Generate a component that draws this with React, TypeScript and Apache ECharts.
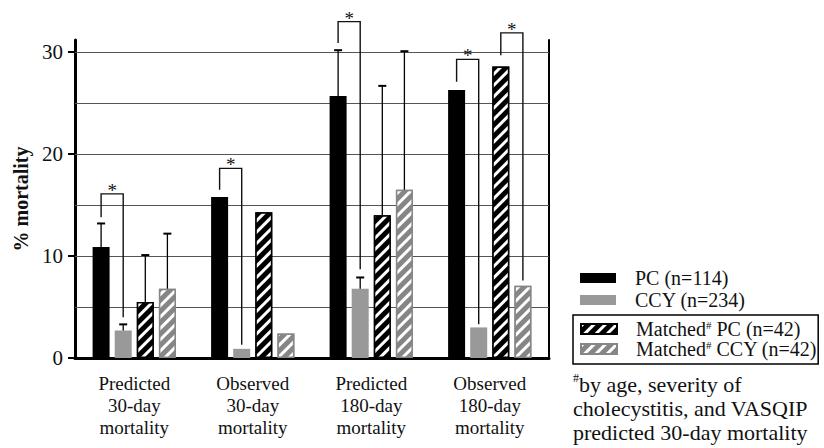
import React, { useEffect, useRef } from "react";
import * as echarts from "echarts";

const categories = [
  "Predicted\n30-day\nmortality",
  "Observed\n30-day\nmortality",
  "Predicted\n180-day\nmortality",
  "Observed\n180-day\nmortality",
];
const seriesNames = ["PC (n=114)", "CCY (n=234)", "Matched# PC (n=42)", "Matched# CCY (n=42)"];
const pcValues = [10.9, 15.8, 25.7, 26.3];
const ccyValues = [2.7, 0.9, 6.8, 3.0];
const matchedPcValues = [5.5, 14.3, 14.0, 28.6];
const matchedCcyValues = [6.8, 2.4, 16.5, 7.1];
const pcErrors = [13.2, null, 30.2, null];
const ccyErrors = [3.3, null, 7.9, null];
const matchedPcErrors = [10.1, null, 26.7, null];
const matchedCcyErrors = [12.2, null, 30.1, null];
// [category, left bar, right bar, bracket top, left leg end, right leg end]
const brackets = [
  [0, 0, 1, 16.1, 13.8, 4.0],
  [1, 0, 1, 18.6, 16.5, 1.3],
  [2, 0, 1, 33.0, 30.9, 8.7],
  [3, 0, 1, 29.3, 27.1, 3.3],
  [3, 2, 3, 31.9, 29.7, 7.6],
];
const yLabelValues = [0, 10, 20, 30];
const gridValues = [5, 10, 15, 20, 25, 30];
const footnote = "{s|#}by age, severity of\ncholecystitis, and VASQIP\npredicted 30-day mortality";

const SERIF = "'Liberation Serif', 'Times New Roman', serif";
const BAR_WIDTH = 17;
const BAR_GAP = 0.3;
const Y_MAX = 31.2;

const barOffset = (idx: number) => (idx - 1.5) * BAR_WIDTH * (1 + BAR_GAP);

export default function App() {
  const ref = useRef<HTMLDivElement>(null);
  useEffect(() => {
    if (!ref.current) return;
    const chart = echarts.init(ref.current, undefined, { renderer: "svg" });

    const values = [pcValues, ccyValues, matchedPcValues, matchedCcyValues];
    const errors = [pcErrors, ccyErrors, matchedPcErrors, matchedCcyErrors];
    const errData: number[][] = [];
    errors.forEach((arr, s) =>
      arr.forEach((e, i) => {
        if (e != null) errData.push([i, s, values[s][i], e]);
      })
    );

    const decalStripe = (color: string) => ({
      symbol: "rect",
      symbolSize: 1,
      color,
      dashArrayX: [1, 0],
      dashArrayY: [3, 5],
      rotation: -Math.PI / 4,
    });

    const legendText = {
      fontFamily: SERIF,
      fontSize: 20,
      color: "#111",
      padding: [0, 0, 0, 14],
      rich: {
        s: { fontFamily: SERIF, fontSize: 11, verticalAlign: "top", color: "#111" },
      },
    };

    const option: any = {
      animation: false,
      backgroundColor: "#fff",
      grid: { left: 75, right: 275, top: 40, bottom: 90 },
      legend: [
        {
          data: [seriesNames[0], seriesNames[1]],
          orient: "vertical",
          left: 580,
          top: 268,
          padding: 0,
          itemWidth: 36,
          itemHeight: 10,
          itemGap: 2,
          icon: "rect",
          textStyle: legendText,
          selectedMode: false,
        },
        {
          data: [seriesNames[2], seriesNames[3]],
          orient: "vertical",
          left: 573,
          top: 315,
          itemWidth: 36,
          itemHeight: 10,
          itemGap: 0,
          icon: "rect",
          borderColor: "#000",
          borderWidth: 1.5,
          padding: [4, 1, 5, 7],
          formatter: (n: string) => n.replace("#", "{s|#}"),
          textStyle: legendText,
          selectedMode: false,
        },
      ],
      xAxis: {
        type: "category",
        data: categories,
        axisLine: { lineStyle: { color: "#000", width: 3 } },
        axisTick: { show: false },
        axisLabel: {
          fontFamily: SERIF,
          fontSize: 19,
          lineHeight: 22,
          color: "#111",
          margin: 14,
        },
      },
      yAxis: [
        {
          type: "value",
          min: 0,
          max: Y_MAX,
          name: "% mortality",
          nameLocation: "middle",
          nameGap: 40,
          nameTextStyle: { fontFamily: SERIF, fontSize: 20, fontWeight: "bold", color: "#111" },
          axisLine: { show: true, lineStyle: { color: "#000", width: 3 } },
          axisTick: { show: true, length: 7, customValues: yLabelValues, lineStyle: { color: "#000", width: 2 } },
          axisLabel: {
            customValues: yLabelValues,
            fontFamily: SERIF,
            fontSize: 21,
            color: "#111",
            margin: 12,
          },
          splitLine: { show: false },
        },
        {
          type: "value",
          min: 0,
          max: Y_MAX,
          position: "right",
          axisLine: { show: true, lineStyle: { color: "#000", width: 2 } },
          axisTick: { show: false },
          axisLabel: { show: false },
          splitLine: { show: false },
        },
      ],
      series: [
        {
          name: seriesNames[0],
          type: "bar",
          data: pcValues,
          barWidth: BAR_WIDTH,
          barGap: `${BAR_GAP * 100}%`,
          itemStyle: { color: "#000" },
          markLine: {
            silent: true,
            symbol: "none",
            z: 1,
            label: { show: false },
            lineStyle: { color: "#555", width: 1, type: "solid" },
            emphasis: { disabled: true },
            data: gridValues.map((v) => ({ yAxis: v })),
          },
        },
        {
          name: seriesNames[1],
          type: "bar",
          data: ccyValues,
          barWidth: BAR_WIDTH,
          barGap: `${BAR_GAP * 100}%`,
          itemStyle: { color: "#999" },
        },
        {
          name: seriesNames[2],
          type: "bar",
          data: matchedPcValues,
          barWidth: BAR_WIDTH,
          barGap: `${BAR_GAP * 100}%`,
          itemStyle: { color: "#000", borderColor: "#000", borderWidth: 1.5, decal: decalStripe("#fff") },
        },
        {
          name: seriesNames[3],
          type: "bar",
          data: matchedCcyValues,
          barWidth: BAR_WIDTH,
          barGap: `${BAR_GAP * 100}%`,
          itemStyle: { color: "#868686", borderColor: "#868686", borderWidth: 1.5, decal: decalStripe("#fff") },
        },
        {
          type: "custom",
          name: "errors",
          data: errData,
          z: 3,
          encode: { x: 0, y: 3 },
          renderItem: (params: any, api: any) => {
            const cat = api.value(0);
            const s = api.value(1);
            const x = api.coord([cat, 0])[0] + barOffset(s);
            const y1 = api.coord([cat, api.value(2)])[1];
            const y2 = api.coord([cat, api.value(3)])[1];
            return {
              type: "group",
              children: [
                { type: "line", shape: { x1: x, y1, x2: x, y2 }, style: { stroke: "#000", lineWidth: 1.3 } },
                { type: "line", shape: { x1: x - 4, y1: y2, x2: x + 4, y2 }, style: { stroke: "#000", lineWidth: 2 } },
              ],
            };
          },
        },
        {
          type: "custom",
          name: "brackets",
          data: brackets,
          z: 3,
          clip: false,
          encode: { x: 0, y: 3 },
          renderItem: (params: any, api: any) => {
            const cat = api.value(0);
            const cx = api.coord([cat, 0])[0];
            const xl = cx + barOffset(api.value(1));
            const xr = cx + barOffset(api.value(2));
            const yt = api.coord([cat, api.value(3)])[1];
            const yl = api.coord([cat, api.value(4)])[1];
            const yr = api.coord([cat, api.value(5)])[1];
            return {
              type: "group",
              children: [
                {
                  type: "polyline",
                  shape: { points: [[xl, yl], [xl, yt], [xr, yt], [xr, yr]] },
                  style: { stroke: "#111", lineWidth: 1.4, fill: "none" },
                },
                {
                  type: "text",
                  x: (xl + xr) / 2,
                  y: yt + 6,
                  style: {
                    text: "*",
                    fontFamily: SERIF,
                    fontSize: 19,
                    fill: "#111",
                    align: "center",
                    verticalAlign: "bottom",
                  },
                },
              ],
            };
          },
        },
      ],
      graphic: [
        {
          type: "text",
          left: 573,
          top: 372,
          style: {
            text: footnote,
            fontFamily: SERIF,
            fontSize: 22,
            lineHeight: 24,
            fill: "#111",
            rich: {
              s: { fontFamily: SERIF, fontSize: 12, verticalAlign: "top", fill: "#111" },
            },
          },
        },
      ],
    };

    chart.setOption(option);
    return () => chart.dispose();
  }, []);

  return (
    <div
      ref={ref}
      style={{ position: "fixed", left: 0, top: 0, width: 824, height: 448 }}
    />
  );
}
